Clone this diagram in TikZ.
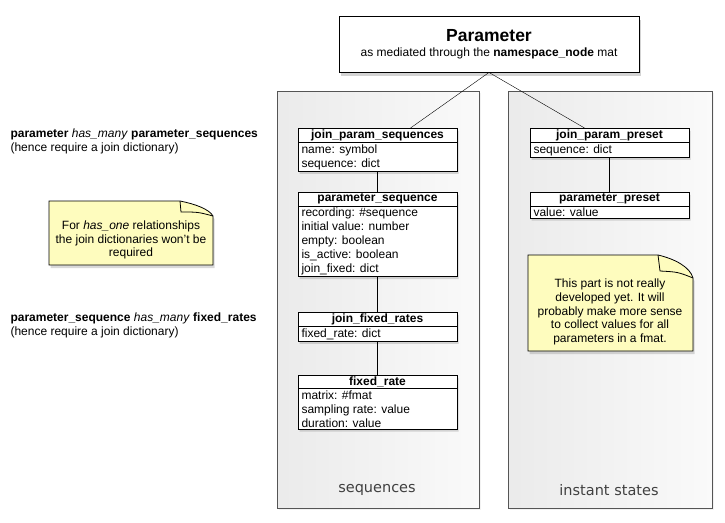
\documentclass[tikz,border=0pt]{standalone}
\usepackage{fontspec}
\setmainfont{Liberation Sans}
\newfontfamily\groupfont{DejaVu Sans}
\usetikzlibrary{positioning, shapes.multipart, shadows}
\definecolor{notecolor}{RGB}{254,252,190}
\definecolor{groupline}{RGB}{85,85,85}

\begin{document}
\begin{tikzpicture}[
            x=1pt, y=-1pt,
            every node/.style={font=\fontsize{12}{14}\selectfont},
            umlclass/.style={rectangle split, rectangle split parts=2, draw, fill=white,
                line width=0.9pt, minimum width=159pt, inner xsep=3.5pt, inner ysep=1.2pt,
                align=left, rectangle split part align={center, left}, anchor=north,
                drop shadow={opacity=0.3, shadow xshift=1.5pt, shadow yshift=-2.5pt}},
            group/.style={draw=groupline, line width=0.8pt, left color=black!8, right color=black!2,
                drop shadow={opacity=0.1, shadow xshift=1.5pt, shadow yshift=-1.5pt}},
            grouplabel/.style={font=\groupfont\fontsize{14.5}{17}\selectfont, text=black!75},
            note/.style={draw, line width=0.8pt, fill=notecolor,
                drop shadow={opacity=0.3, shadow xshift=1.5pt, shadow yshift=-3pt}},
            notetext/.style={align=center, font=\fontsize{12}{13.8}\selectfont},
            sidetext/.style={align=left, anchor=west},
        ]
            \useasboundingbox (0,0) rectangle (725,522);

            % the two groups
            \draw[group] (277,91) rectangle (479,508);
            \draw[group] (508,91) rectangle (712,508);
            \node[grouplabel] (seqlabel) at (377,490) {sequences};
            \node[grouplabel] (instlabel) at (609,490) {instant states};

            % top box
            \node[draw, fill=white, line width=0.9pt, minimum width=300pt, minimum height=56pt,
                align=center, drop shadow={opacity=0.35, shadow xshift=1.5pt, shadow yshift=-4pt}]
                (param) at (489,44)
                {{\fontsize{17.5}{17}\selectfont\bfseries Parameter}\\[1pt]
                 as mediated through the \textbf{namespace\_node} mat};

            % sequences
            \node[umlclass] (jps) at (377.5,128)
                {\textbf{join\_param\_sequences}
                 \nodepart{two} name: symbol\\ sequence: dict};
            \node[umlclass] (ps) at (377.5,192)
                {\textbf{parameter\_sequence}
                 \nodepart{two} recording: \#sequence\\ initial value: number\\ empty: boolean\\
                 is\_active: boolean\\ join\_fixed: dict};
            \node[umlclass] (jfr) at (377.5,312)
                {\textbf{join\_fixed\_rates}
                 \nodepart{two} fixed\_rate: dict};
            \node[umlclass] (fr) at (377.5,375)
                {\textbf{fixed\_rate}
                 \nodepart{two} matrix: \#fmat\\ sampling rate: value\\ duration: value};

            % instant states
            \node[umlclass] (jpp) at (609.5,128)
                {\textbf{join\_param\_preset}
                 \nodepart{two} sequence: dict};
            \node[umlclass] (pp) at (609.5,192)
                {\textbf{parameter\_preset}
                 \nodepart{two} value: value};

            \draw (param.south) -- ([xshift=33pt]jps.north);
            \draw (param.south) -- ([xshift=-25pt]jpp.north);
            \draw (jps.south) -- (ps.north);
            \draw (ps.south) -- (jfr.north);
            \draw (jfr.south) -- (fr.north);
            \draw (jpp.south) -- (pp.north);

            % notes
            \draw[note] (49,201) -- (180,201) .. controls (195,204) and (209,209) .. (213,216)
                -- (213,265) -- (49,265) -- cycle;
            \draw[line width=0.8pt] (180,201) -- (181,212) .. controls (198,212) .. (213,216);
            \node[notetext] (note1) at (131,240)
                {For \textit{has\_one} relationships\\ the join dictionaries won't be\\ required};

            \draw[note] (528,255) -- (658,255) .. controls (675,259) and (690,267) .. (693,278)
                -- (693,351) -- (528,351) -- cycle;
            \draw[line width=0.8pt] (658,255) -- (660,271) .. controls (678,272) .. (693,278);
            \node[notetext] (note2) at (610,312)
                {This part is not really\\ developed yet. It will\\ probably make more sense\\
                 to collect values for all\\ parameters in a fmat.};

            % side remarks
            \node[sidetext] (remark1) at (7,141)
                {\textbf{parameter} \textit{has\_many} \textbf{parameter\_sequences}\\
                 (hence require a join dictionary)};
            \node[sidetext] (remark2) at (7,325)
                {\textbf{parameter\_sequence} \textit{has\_many} \textbf{fixed\_rates}\\
                 (hence require a join dictionary)};
        \end{tikzpicture}
\end{document}
